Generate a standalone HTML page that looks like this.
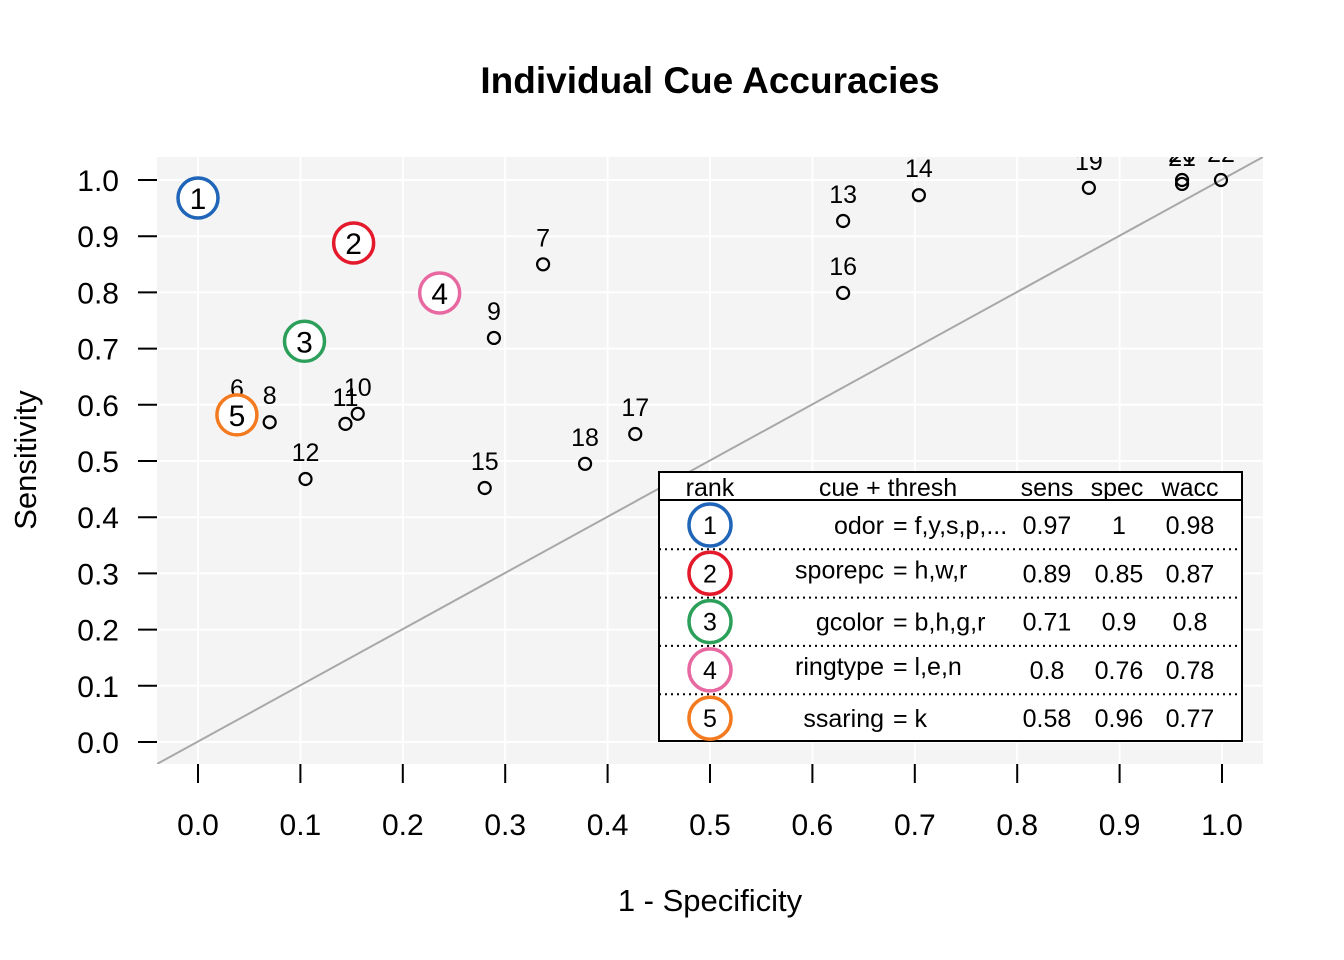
<!DOCTYPE html>
<html><head><meta charset="utf-8"><style>
body{margin:0;background:#fff}
svg{display:block;font-family:"Liberation Sans",Arial,sans-serif}
</style></head><body>
<svg id="chart" width="1344" height="960" viewBox="0 0 1344 960">
<defs><clipPath id="pc"><rect x="157" y="157" width="1106" height="607"/></clipPath></defs>
<text x="710" y="93" text-anchor="middle" font-size="37" font-weight="bold">Individual Cue Accuracies</text>
<rect x="157" y="157" width="1106" height="607" fill="#f4f4f4"/>
<g id="grid"></g>
<line x1="157" y1="764" x2="1263" y2="157" stroke="#a8a8a8" stroke-width="2" clip-path="url(#pc)"/>
<g id="pts" clip-path="url(#pc)"></g>
<g id="axes"></g>
<text x="710" y="911" text-anchor="middle" font-size="31">1 - Specificity</text>
<text transform="translate(36,460) rotate(-90)" text-anchor="middle" font-size="31">Sensitivity</text>
<g id="legend"></g>
</svg>
<script>
const xTicks=[0,0.1,0.2,0.3,0.4,0.5,0.6,0.7,0.8,0.9,1.0];
const yTicks=[0,0.1,0.2,0.3,0.4,0.5,0.6,0.7,0.8,0.9,1.0];
const cueIds=["6","7","8","9","10","11","12","13","14","15","16","17","18","19","20","21","22"];
const cueFpr=[0.038,0.337,0.070,0.289,0.156,0.144,0.105,0.630,0.704,0.280,0.630,0.427,0.378,0.870,0.961,0.961,0.999];
const cueSens=[0.582,0.850,0.569,0.719,0.584,0.566,0.468,0.927,0.973,0.452,0.799,0.548,0.495,0.986,1.0,0.993,1.0];
const rankFpr=[0.0,0.152,0.104,0.236,0.038];
const rankSens=[0.968,0.888,0.713,0.799,0.582];
const rankColors=["#1f65b8","#e41a2c","#2ca05a","#e868a2","#f47a20"];
const rankCue=["odor","sporepc","gcolor","ringtype","ssaring"];
const rankThresh=["f,y,s,p,...","h,w,r","b,h,g,r","l,e,n","k"];
const rankSensLbl=["0.97","0.89","0.71","0.8","0.58"];
const rankSpecLbl=["1","0.85","0.9","0.76","0.96"];
const rankWaccLbl=["0.98","0.87","0.8","0.78","0.77"];
const X=v=>198+v*1024, Y=v=>742-v*562;
const NS="http://www.w3.org/2000/svg";
function mk(t,a,p,txt){const e=document.createElementNS(NS,t);for(const k in a)e.setAttribute(k,a[k]);if(txt!==undefined)e.textContent=txt;p.appendChild(e);return e;}
const grid=document.getElementById('grid'),axes=document.getElementById('axes'),pts=document.getElementById('pts'),lg=document.getElementById('legend');
xTicks.forEach(v=>{
 const g=mk('line',{x1:X(v),x2:X(v),y1:157,y2:764,stroke:'#fff','stroke-width':2},grid);
 
 
 const t=mk('line',{x1:X(v),x2:X(v),y1:764,y2:783,stroke:'#000','stroke-width':2},axes);
 
 
 const l=mk('text',{x:X(v),y:835,'text-anchor':'middle','font-size':30},axes,v.toFixed(1));
 
 
});
yTicks.forEach(v=>{
 const g=mk('line',{x1:157,x2:1263,y1:Y(v),y2:Y(v),stroke:'#fff','stroke-width':2},grid);
 
 
 const t=mk('line',{x1:138,x2:157,y1:Y(v),y2:Y(v),stroke:'#000','stroke-width':2},axes);
 
 
 const l=mk('text',{x:119,y:Y(v)+11,'text-anchor':'end','font-size':30},axes,v.toFixed(1));
 
 
});
cueIds.forEach((id,i)=>{
 const t=mk('text',{x:X(cueFpr[i]),y:Y(cueSens[i])-18,'text-anchor':'middle','font-size':25},pts,id);
 
 
});
cueIds.forEach((id,i)=>{
 const c=mk('circle',{cx:X(cueFpr[i]),cy:Y(cueSens[i]),r:6,fill:'none',stroke:'#000','stroke-width':2.2},pts);
 
 
});
rankFpr.forEach((f,i)=>{
 const c=mk('circle',{cx:X(f),cy:Y(rankSens[i]),r:20,fill:'#fff',stroke:rankColors[i],'stroke-width':3.5},pts);
 
 
 const t=mk('text',{x:X(f),y:Y(rankSens[i])+11,'text-anchor':'middle','font-size':30},pts,String(i+1));
 
 
});
const box=mk('rect',{x:659,y:472,width:583,height:269,fill:'#fff',stroke:'#000','stroke-width':2},lg);


const hl=mk('line',{x1:659,x2:1242,y1:500,y2:500,stroke:'#000','stroke-width':2},lg);


[["rank",710],["cue + thresh",888],["sens",1047],["spec",1117],["wacc",1190]].forEach(h=>{
 const t=mk('text',{x:h[1],y:496,'text-anchor':'middle','font-size':25},lg,h[0]);
 
 
});
rankCue.forEach((c,i)=>{
 const cy=525+i*48.3;
 if(i>0){const d=mk('line',{x1:659,x2:1242,y1:cy-24,y2:cy-24,stroke:'#000','stroke-width':2,'stroke-dasharray':'2,4'},lg);
  
  }
 const e=mk('ellipse',{cx:710,cy:cy,rx:21,ry:21,fill:'#fff',stroke:rankColors[i],'stroke-width':3.5},lg);
 
 
 const vals=[[String(i+1),710,'middle'],[c,884,'end'],["= "+rankThresh[i],893,'start'],[rankSensLbl[i],1047,'middle'],[rankSpecLbl[i],1119,'middle'],[rankWaccLbl[i],1190,'middle']];
 vals.forEach((v,j)=>{
  const t=mk('text',{x:v[1],y:cy+9,'text-anchor':v[2],'font-size':25},lg,v[0]);
  if(j===1||j===2)t.setAttribute('y',cy+(i===1||i===3?5:9));
  
  
 });
});
</script>
</body></html>
